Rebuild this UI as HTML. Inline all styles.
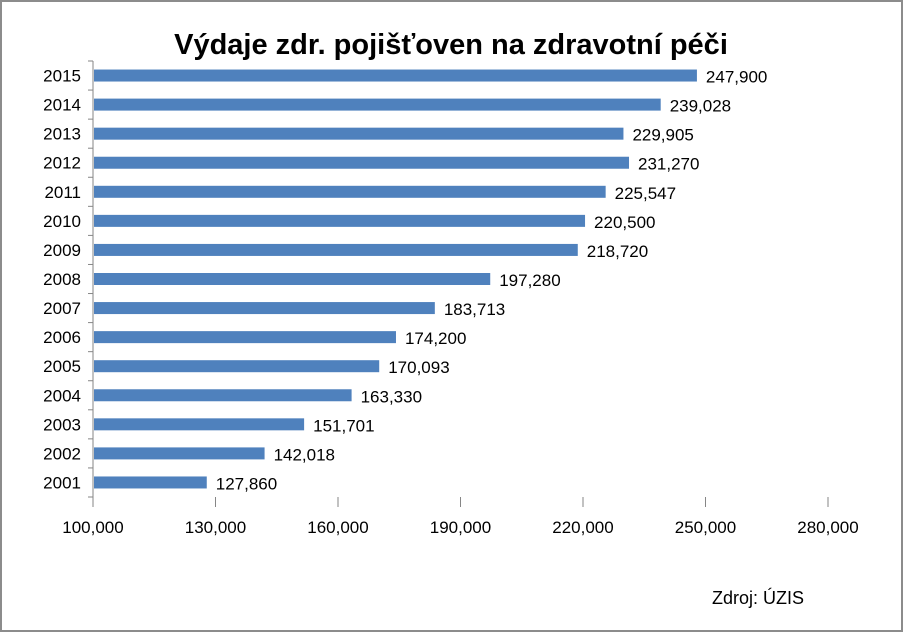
<!DOCTYPE html>
<html><head><meta charset="utf-8"><style>
html,body{margin:0;padding:0;background:#fff}
#c{position:relative;width:903px;height:632px;box-sizing:border-box;border:2px solid #8c8c8c;background:#fff;font-family:"Liberation Sans",Arial,sans-serif}
svg text{font-family:"Liberation Sans",Arial,sans-serif}
</style></head><body>
<div id="c">
<svg id="s" width="899" height="628" style="position:absolute;left:0;top:0">
<text x="449" y="52" text-anchor="middle" font-size="29" font-weight="bold" fill="#000">Výdaje zdr. pojišťoven na zdravotní péči</text>
<text x="756" y="602" text-anchor="middle" font-size="18" fill="#000">Zdroj: ÚZIS</text>
</svg>
</div>
<script>
const categories=["2001","2002","2003","2004","2005","2006","2007","2008","2009","2010","2011","2012","2013","2014","2015"];
const values=[127860,142018,151701,163330,170093,174200,183713,197280,218720,220500,225547,231270,229905,239028,247900];
const tickValues=[100000,130000,160000,190000,220000,250000,280000];
const xMin=100000,xMax=280000;
const ox=-2,oy=-2;
const pL=93+ox,pR=828+ox,pT=61+oy,pB=497+oy;
const xs=v=>pL+(v-xMin)/(xMax-xMin)*(pR-pL);
const rowH=(pB-pT)/categories.length;
const yc=i=>pB-(i+0.5)*rowH;
const fmt=v=>v.toLocaleString('en-US');
const s=document.getElementById('s'),NS='http://www.w3.org/2000/svg';
function mk(t,a){const e=document.createElementNS(NS,t);for(const k in a)e.setAttribute(k,a[k]);s.appendChild(e);return e;}
let ax=mk('line',{x1:pL,y1:pT,x2:pL,y2:pB,stroke:'#868686','stroke-width':1});


for(let i=0;i<=categories.length;i++){
 const y=pB-i*rowH;
 const t=mk('line',{x1:pL-5,y1:y,x2:pL,y2:y,stroke:'#868686'});
 
 
}
tickValues.forEach(v=>{
 const x=xs(v);
 const t=mk('line',{x1:x,y1:pB,x2:x,y2:pB+10,stroke:'#868686'});
 
 
 const l=mk('text',{x:x,y:pB+36,'text-anchor':'middle','font-size':17,fill:'#000'});
 l.textContent=fmt(v);
 
 
});
categories.forEach((c,i)=>{
 const y=yc(i);
 const l=mk('text',{x:pL-12,y:y+6,'text-anchor':'end','font-size':17,fill:'#000'});
 l.textContent=c;
 
 
 const b=mk('rect',{x:pL+1,y:y-6,width:xs(values[i])-pL-1,height:12,fill:'#4f81bd'});
 
 
 const v=mk('text',{x:xs(values[i])+9,y:y+7,'font-size':17,fill:'#000'});
 v.textContent=fmt(values[i]);
 
 
});
</script>
</body></html>
